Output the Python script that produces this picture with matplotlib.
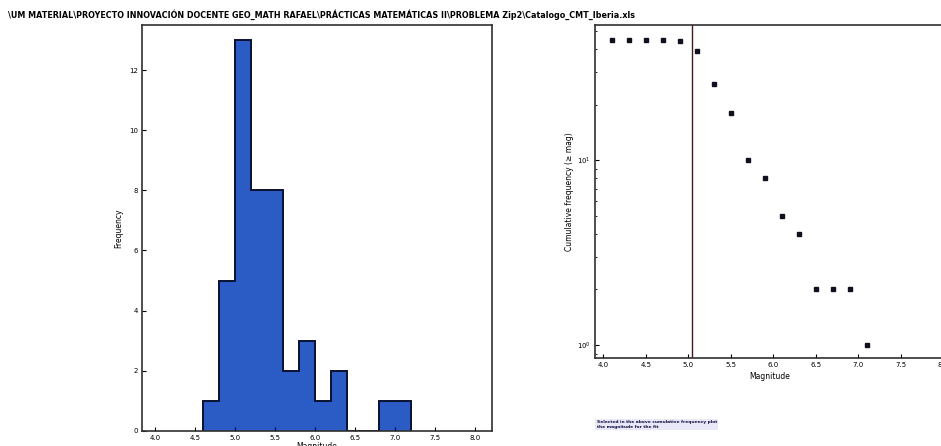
import numpy as np
import matplotlib
matplotlib.use('Agg')
import matplotlib.pyplot as plt

# datos
bin_edges = [4.6, 4.8, 5.0, 5.2, 5.4, 5.6, 5.8, 6.0, 6.2, 6.4, 6.6, 6.8, 7.0, 7.2]
counts = [1, 5, 13, 8, 8, 2, 3, 1, 2, 0, 0, 1, 1]

mags = [4.1, 4.3, 4.5, 4.7, 4.9, 5.1, 5.3, 5.5, 5.7, 5.9, 6.1, 6.3, 6.5, 6.7, 6.9, 7.1]
cum_freq = [45, 45, 45, 45, 44, 39, 26, 18, 10, 8, 5, 4, 2, 2, 2, 1]
mc = 5.05

title = ("\\UM MATERIAL\\PROYECTO INNOVACIÓN DOCENTE GEO_MATH RAFAEL\\PRÁCTICAS "
         "MATEMÁTICAS II\\PROBLEMA Zip2\\Catalogo_CMT_Iberia.xls")

plt.rcParams['font.family'] = ['DejaVu Sans']
fig = plt.figure(figsize=(9.41, 4.46), dpi=100)

# histograma
ax1 = fig.add_axes([0.151, 0.034, 0.372, 0.910])
ax1.stairs(counts, bin_edges, fill=True, color='#2B5CC6')
ax1.stairs(counts, bin_edges, color='#0a1030', linewidth=1.4)
ax1.set_xlim(3.84, 8.21)
ax1.set_ylim(0, 13.5)
ax1.set_xticks(np.arange(4.0, 8.01, 0.5))
ax1.set_yticks(range(0, 13, 2))
ax1.set_xlabel('Magnitude', fontsize=5.5, labelpad=1)
ax1.set_ylabel('Frequency', fontsize=5.5)

# frecuencia acumulada
ax2 = fig.add_axes([0.632, 0.197, 0.372, 0.747])
ax2.semilogy(mags, cum_freq, 's', color='#10101e', markersize=3.5)
ax2.axvline(mc, color='#3a2020', linewidth=1)
ax2.set_xlim(3.9, 8.02)
ax2.set_ylim(0.85, 54)
ax2.set_xticks(np.arange(4.0, 8.01, 0.5))
ax2.set_xlabel('Magnitude', fontsize=5.5, labelpad=3)
ax2.set_ylabel('Cumulative frequency (≥ mag)', fontsize=5.5, labelpad=2)

for ax in (ax1, ax2):
    ax.tick_params(direction='in', labelsize=5, length=3, pad=3)
    ax.tick_params(which='minor', direction='in', length=1.5)
    for s in ax.spines.values():
        s.set_linewidth(1.2)
        s.set_color('#303030')

fig.text(0.008, 0.966, title, fontsize=5.8, fontweight='bold', va='center', ha='left')

fig.text(0.634, 0.048, "Selected in the above cumulative frequency plot\nthe magnitude for the fit",
         fontsize=3.2, fontweight='bold', color='#101040', va='center', ha='left',
         linespacing=1.1,
         bbox=dict(boxstyle='square,pad=0.3', facecolor='#e8e8f8', edgecolor='none'))

fig.savefig('out.png', dpi=100)
